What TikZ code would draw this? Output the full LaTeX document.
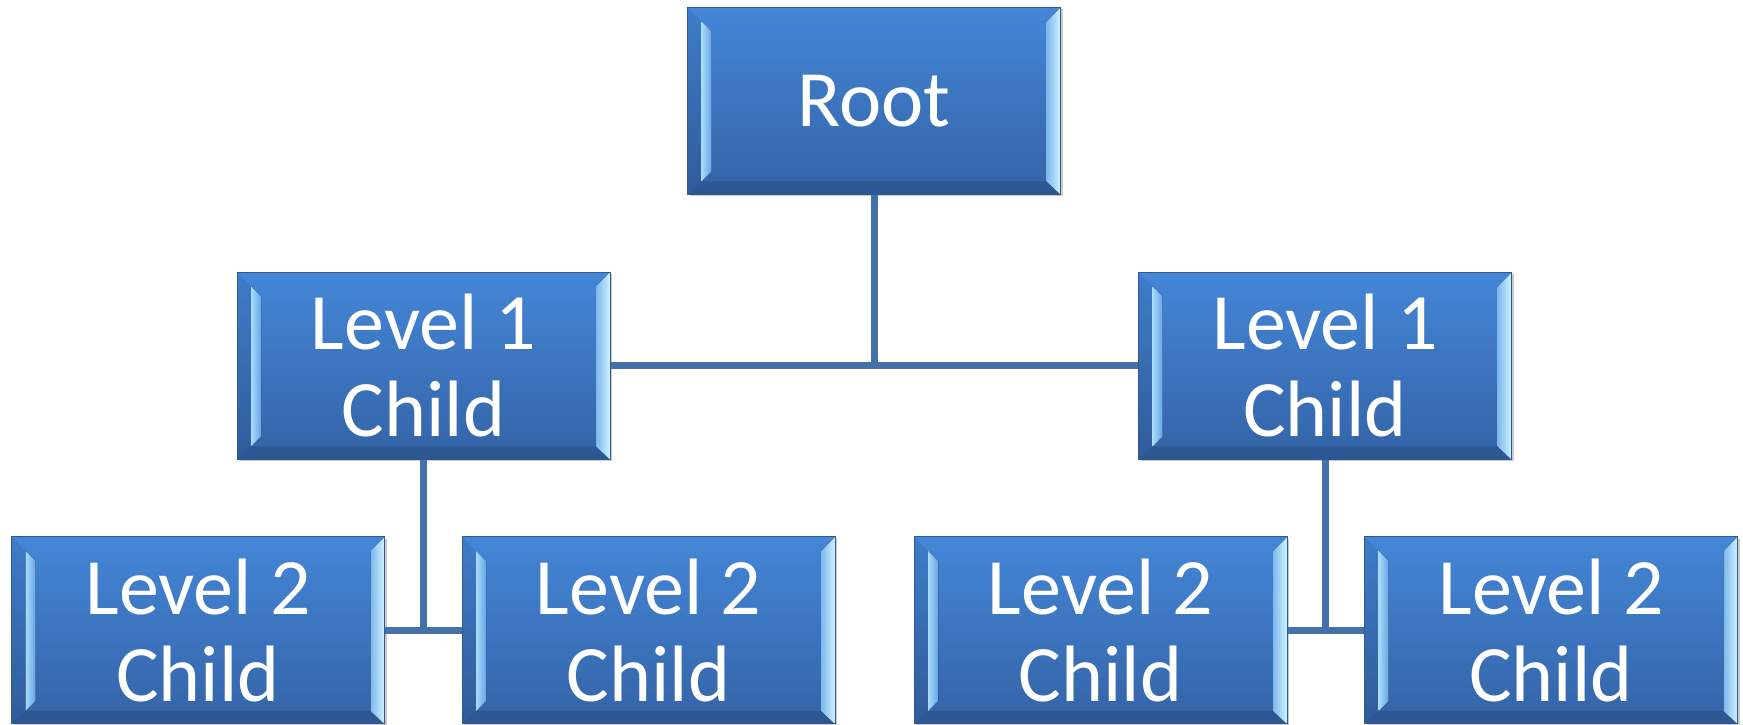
\documentclass[tikz,border=0pt]{standalone}
\usepackage{fontspec}
\setmainfont{Carlito}
\usetikzlibrary{shadows}
\definecolor{boxtop}{HTML}{4486D7}
\definecolor{boxbot}{HTML}{3463A6}
\definecolor{boxedge}{HTML}{2E5A90}
\definecolor{bevhi}{HTML}{A8DCFD}
\definecolor{bevmid}{HTML}{7DB8EE}
\definecolor{bevrim}{HTML}{D0F2FF}
\definecolor{linkcol}{HTML}{4571A9}
\tikzset{
  box/.style={draw=boxedge, line width=1pt, top color=boxtop, bottom color=boxbot,
    minimum width=373pt, minimum height=187pt, inner sep=0pt, text=white,
    align=center, font=\fontsize{80}{87}\selectfont,
    drop shadow={opacity=0.35, shadow xshift=2pt, shadow yshift=-2pt, fill=black!60},
    path picture={
      % outer left and bottom bevels, a bit darker
      \fill[black, opacity=0.07]
        (path picture bounding box.south west) -- (path picture bounding box.north west)
        -- ([shift={(14pt,-14pt)}]path picture bounding box.north west)
        -- ([shift={(14pt,13pt)}]path picture bounding box.south west) -- cycle;
      \fill[black, opacity=0.12]
        (path picture bounding box.south west) -- (path picture bounding box.south east)
        -- ([shift={(-14pt,13pt)}]path picture bounding box.south east)
        -- ([shift={(14pt,13pt)}]path picture bounding box.south west) -- cycle;
      % light stripe inside the left bevel
      \fill[left color=bevhi, right color=bevhi!35!boxtop]
        ([shift={(14pt,-14pt)}]path picture bounding box.north west)
        -- ([shift={(24pt,-24pt)}]path picture bounding box.north west)
        -- ([shift={(24pt,23pt)}]path picture bounding box.south west)
        -- ([shift={(14pt,13pt)}]path picture bounding box.south west) -- cycle;
      % light right bevel
      \fill[left color=bevmid, right color=bevrim]
        (path picture bounding box.south east) -- (path picture bounding box.north east)
        -- ([shift={(-14pt,-14pt)}]path picture bounding box.north east)
        -- ([shift={(-14pt,13pt)}]path picture bounding box.south east) -- cycle;
    }},
  link/.style={draw=linkcol, line width=7pt}
}

\begin{document}
\begin{tikzpicture}[x=1pt,y=1pt]
\useasboundingbox (0,0) rectangle (1743,725);

\coordinate (r) at (874,624);
\coordinate (a) at (423.5,359);
\coordinate (b) at (1325,359);

\node[box] (root) at (r) {Root};
\node[box] (l1a) at (a) {Level 1\\Child};
\node[box] (l1b) at (b) {Level 1\\Child};

\node[box] (l2a) at (198,94.5) {Level 2\\Child};
\node[box] (l2b) at (648.5,94.5) {Level 2\\Child};
\node[box] (l2c) at (1100.5,94.5) {Level 2\\Child};
\node[box] (l2d) at (1551,94.5) {Level 2\\Child};

% tree connectors
\draw[link] (root.south) -- (root.south |- l1a.east);
\draw[link] (l1a.east) -- (l1b.west);
\draw[link] (l1a.south) -- (l1a.south |- l2a.east);
\draw[link] (l2a.east) -- (l2b.west);
\draw[link] (l1b.south) -- (l1b.south |- l2c.east);
\draw[link] (l2c.east) -- (l2d.west);
\end{tikzpicture}
\end{document}
